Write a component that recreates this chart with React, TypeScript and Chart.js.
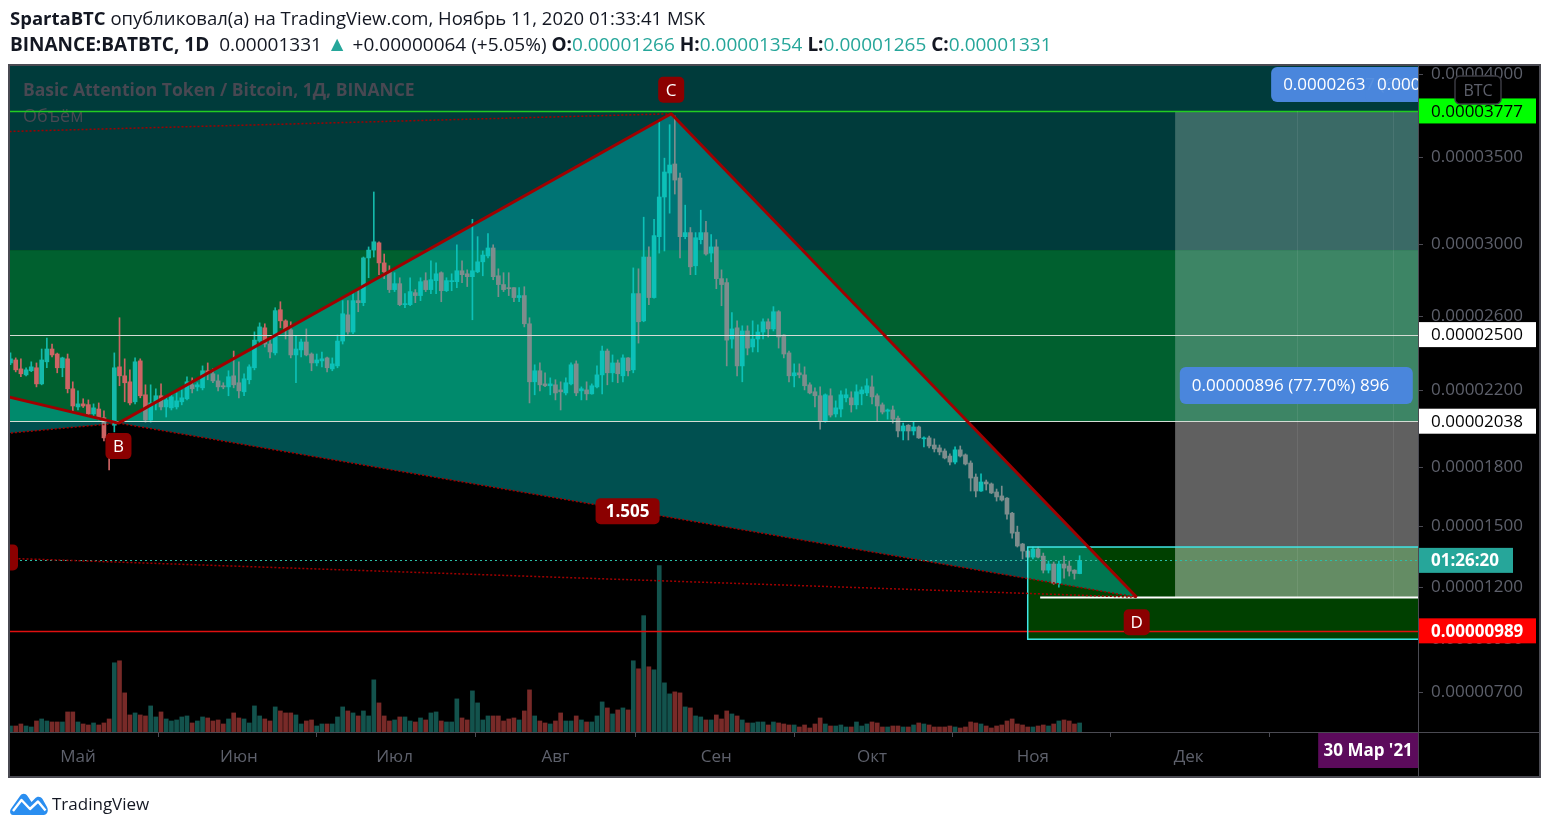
import React, { useEffect, useRef } from 'react';
import { Chart, registerables } from 'chart.js';

Chart.register(...registerables);

// ---------------- data (prices in satoshi, 1e-8 BTC) ----------------
const FIRST_DATE = '2020-04-18';
const REF_DATE = '2020-05-01';
const SAT = 1e-8;

const OPEN = [
  2347,2363,2315,2283,2305,2321,2235,2353,2422,2395,
  2321,2369,2209,2113,2129,2125,2076,2102,2056,1961,
  2017,2326,2278,2246,2140,2358,2177,2044,2134,2172,
  2113,2108,2113,2140,2156,2230,2219,2214,2305,2289,
  2251,2225,2219,2278,2241,2193,2257,2321,2465,2537,
  2449,2401,2636,2575,2526,2390,2417,2460,2395,2347,
  2358,2374,2315,2331,2465,2608,2514,2686,2675,2924,
  2968,3009,2896,2846,2747,2780,2664,2664,2730,2714,
  2797,2747,2797,2841,2741,2791,2791,2852,2835,2819,
  2846,2902,2935,2980,2824,2775,2758,2758,2703,2714,
  2559,2246,2305,2235,2225,2230,2203,2187,2235,2342,
  2198,2203,2182,2219,2283,2411,2294,2347,2278,2374,
  2310,2725,2575,2929,2703,3044,3271,3410,3463,3381,
  3044,3067,2880,3027,3067,2951,2986,2808,2786,2476,
  2537,2331,2520,2433,2476,2514,2570,2531,2625,2498,
  2401,2278,2294,2283,2230,2193,2172,2038,2172,2076,
  2102,2161,2161,2124,2182,2187,2219,2172,2124,2090,
  2097,2054,1987,2017,1987,2008,1946,1951,1914,1899,
  1883,1857,1826,1889,1863,1821,1749,1678,1724,1714,
  1673,1653,1642,1566,1471,1412,1377,1347,1387,1352,
  1283,1313,1219,1313,1303,1283,1266,
];
const HIGH = [
  2401,2374,2369,2321,2353,2347,2422,2481,2449,2400,
  2378,2395,2246,2198,2156,2150,2129,2134,2092,1975,
  2401,2592,2369,2310,2374,2369,2230,2230,2209,2235,
  2166,2182,2187,2203,2273,2267,2241,2331,2347,2315,
  2283,2241,2305,2411,2353,2289,2337,2515,2564,2559,
  2476,2647,2680,2581,2570,2492,2476,2531,2401,2395,
  2406,2379,2374,2498,2686,2686,2725,2741,2929,2986,
  3300,3015,2946,2880,2841,2813,2725,2813,2747,2813,
  2841,2907,2896,2846,2813,2835,2998,2907,2857,3143,
  3044,2963,3062,2998,2863,2841,2841,2758,2758,2763,
  2592,2337,2347,2294,2267,2257,2246,2267,2347,2358,
  2219,2246,2235,2331,2438,2422,2390,2363,2390,2376,
  2868,2863,3155,2986,3143,3723,3497,3695,3747,3410,
  3224,3096,3067,3195,3131,3056,3027,2857,2808,2620,
  2575,2548,2548,2575,2553,2586,2586,2653,2631,2500,
  2411,2342,2342,2326,2241,2214,2219,2182,2209,2145,
  2198,2209,2193,2230,2219,2262,2278,2182,2134,2102,
  2118,2065,2028,2020,2033,2013,1956,1961,1946,1914,
  1894,1868,1904,1909,1868,1832,1765,1765,1734,1719,
  1688,1703,1645,1570,1501,1415,1382,1397,1397,1367,
  1328,1323,1328,1352,1328,1285,1354,
];
const LOW = [
  2337,2299,2273,2278,2300,2219,2230,2321,2379,2294,
  2273,2187,2092,2097,2110,2070,2060,2044,1935,1785,
  1982,2225,2140,2124,2129,2161,2033,2033,2097,2097,
  2060,2097,2102,2124,2150,2187,2198,2203,2257,2241,
  2198,2209,2172,2214,2161,2172,2235,2310,2449,2433,
  2374,2390,2537,2476,2374,2241,2379,2385,2305,2331,
  2326,2299,2305,2321,2449,2503,2505,2625,2658,2813,
  2929,2830,2808,2731,2736,2658,2647,2658,2675,2686,
  2736,2725,2725,2680,2736,2741,2758,2786,2764,2581,
  2841,2824,2924,2802,2708,2736,2714,2680,2680,2542,
  2134,2177,2198,2220,2177,2150,2097,2177,2230,2172,
  2150,2150,2180,2214,2182,2230,2246,2241,2246,2278,
  2294,2454,2570,2664,2700,2951,2963,3178,3288,2924,
  3032,2830,2830,3003,2940,2902,2752,2658,2331,2427,
  2278,2246,2390,2406,2406,2476,2487,2520,2427,2374,
  2246,2219,2267,2203,2182,2113,1997,2033,2060,2060,
  2060,2140,2086,2102,2124,2172,2129,2038,2076,2049,
  2028,1956,1940,1940,1966,1948,1904,1899,1878,1863,
  1842,1811,1816,1852,1811,1678,1648,1676,1683,1665,
  1627,1627,1536,1441,1397,1338,1343,1338,1343,1269,
  1269,1214,1200,1244,1254,1239,1265,
];
const CLOSE = [
  2369,2310,2289,2310,2326,2235,2363,2422,2390,2321,
  2374,2209,2118,2129,2118,2076,2108,2054,1951,1935,
  2321,2278,2241,2134,2353,2172,2044,2134,2172,2113,
  2150,2166,2145,2161,2246,2209,2230,2305,2294,2251,
  2219,2219,2273,2230,2198,2262,2326,2470,2542,2449,
  2406,2631,2575,2526,2390,2422,2460,2390,2347,2363,
  2369,2321,2342,2465,2614,2514,2686,2675,2924,2968,
  3015,2896,2846,2747,2780,2664,2669,2736,2714,2791,
  2747,2802,2835,2741,2797,2797,2852,2830,2819,2852,
  2902,2940,2980,2819,2775,2747,2752,2703,2714,2559,
  2246,2305,2230,2225,2235,2187,2193,2241,2337,2187,
  2209,2182,2225,2283,2411,2294,2347,2289,2374,2305,
  2725,2570,2929,2703,3050,3271,3416,3457,3369,3044,
  3067,2874,3038,3067,2946,2986,2808,2775,2470,2531,
  2331,2520,2427,2476,2514,2570,2531,2625,2487,2395,
  2278,2294,2283,2225,2187,2172,2038,2177,2070,2108,
  2177,2177,2124,2193,2203,2225,2166,2118,2086,2097,
  2049,1987,2013,1987,2008,1951,1951,1909,1894,1878,
  1847,1826,1889,1857,1816,1744,1678,1724,1714,1668,
  1648,1632,1561,1466,1402,1377,1347,1387,1347,1283,
  1313,1219,1313,1293,1278,1267,1331,
];
const VOLUME = [
  6,6,8,6,5,11,13,11,10,10,
  10,20,20,10,8,7,9,7,9,13,
  69,71,39,17,19,17,16,26,15,20,
  13,11,12,15,16,9,11,15,14,11,
  12,8,13,19,14,13,9,26,16,13,
  11,25,21,19,19,17,8,11,12,6,
  8,8,8,15,25,21,19,16,21,16,
  52,29,16,11,12,15,15,11,10,14,
  12,19,20,11,10,10,33,14,12,41,
  29,12,16,16,16,11,13,14,12,21,
  42,16,11,9,8,11,19,11,11,16,
  12,10,10,16,30,24,18,22,24,22,
  71,63,116,65,62,166,49,38,40,39,
  25,24,16,15,12,12,17,13,21,18,
  16,12,9,9,10,10,7,10,9,8,
  7,7,5,7,4,8,14,8,6,6,
  7,5,5,10,6,8,10,9,5,5,
  6,6,5,5,7,9,8,7,5,5,
  5,6,5,4,5,10,9,8,6,4,
  6,7,11,13,8,7,5,5,6,7,
  6,8,11,12,11,8,9,
];

const PRICE_TICKS = [4000, 3500, 3000, 2600, 2200, 1800, 1500, 1200, 950, 700];
const MONTH_LABELS = ['Май', 'Июн', 'Июл', 'Авг', 'Сен', 'Окт', 'Ноя', 'Дек', '2021'];
const MONTH_DATES = ['2020-05-01', '2020-06-01', '2020-07-01', '2020-08-01', '2020-09-01', '2020-10-01', '2020-11-01', '2020-12-01', '2021-01-01'];

// harmonic pattern X A B C D (days from 1 May 2020, price in satoshi)
const PATTERN_NAMES = ['X', 'A', 'B', 'C', 'D'];
const PATTERN_DAYS = [-204.8, -205.8, 7.8, 114.3, 204.0];
const PATTERN_PRICES = [1511, 3497, 2028, 3760, 1151];
const PATTERN_RATIO = '1.505';

// horizontal levels
const LEVEL_GREEN = 3777;
const LEVEL_WHITE = [2500, 2038];
const LEVEL_RED = 989;
const TARGET_D = 1151;
const COUNTDOWN = '01:26:20';

// shaded zones: day range, price range
const ZONE_FROM = [-999, -999, 211.4, 211.4, 183.0, 211.4, 211.4];
const ZONE_TO = [999, 999, 999, 999, 999, 999, 999];
const ZONE_LOW = [2968, 2038, 2968, 2038, 949, 1151, 1151];
const ZONE_HIGH = [9000, 2968, 3777, 2968, 1397, 2038, 1397];
const ZONE_COLORS = ['#003b3b', '#00602f', '#3a6a66', '#3d8565', '#004000', '#606060', '#648c64'];

// view window
const VIEW_DAY_MIN = -13.1;
const VIEW_DAY_MAX = 258.2;
const VIEW_PRICE_MIN = 516;
const VIEW_PRICE_MAX = 4049;
const SCALE_SHIFT = 10000;

// ---------------- helpers ----------------
const DAY_MS = 86400000;
const dayNum = (s: string) => Math.round((Date.parse(s) - Date.parse(REF_DATE)) / DAY_MS);
const FIRST_DAY = dayNum(FIRST_DATE);
const tf = (p: number) => Math.log(p + SCALE_SHIFT);
const fmt = (p: number) => (p * SAT).toFixed(8);
const FONT = '"Open Sans", "Noto Sans", sans-serif';

const UP = 'rgb(20,185,170)';
const DOWN = 'rgb(205,100,100)';
const VOL_UP = 'rgba(38,166,154,0.5)';
const VOL_DOWN = 'rgba(239,83,80,0.5)';

const tvPlugin: any = {
  id: 'tvOverlay',
  beforeDraw(chart: any) {
    const { ctx, chartArea: a, scales } = chart;
    const xs = scales.x, ys = scales.y;
    const px = (d: number) => xs.getPixelForValue(d);
    const py = (p: number) => ys.getPixelForValue(tf(p));
    ctx.save();
    ctx.fillStyle = '#4a4a52';
    ctx.fillRect(a.left - 2, a.top - 2, ys.right - a.left + 4, xs.bottom - a.top + 4);
    ctx.fillStyle = '#000';
    ctx.fillRect(a.left, a.top, ys.right - a.left, xs.bottom - a.top);
    ctx.beginPath();
    ctx.rect(a.left, a.top, a.right - a.left, a.bottom - a.top);
    ctx.clip();
    for (let i = 0; i < ZONE_COLORS.length; i++) {
      const x0 = Math.max(px(ZONE_FROM[i]), a.left - 5);
      const x1 = Math.min(px(ZONE_TO[i]), a.right + 5);
      const y0 = Math.max(py(ZONE_HIGH[i]), a.top - 5);
      const y1 = py(ZONE_LOW[i]);
      ctx.fillStyle = ZONE_COLORS[i];
      ctx.fillRect(x0, y0, x1 - x0, y1 - y0);
    }
    ctx.fillStyle = '#484852';
    ctx.textBaseline = 'middle';
    ctx.textAlign = 'left';
    ctx.font = 'bold 17.5px ' + FONT;
    ctx.fillText('Basic Attention Token / Bitcoin, 1Д, BINANCE', a.left + 13, a.top + 25);
    ctx.font = '18px ' + FONT;
    ctx.fillText('Объём', a.left + 13, a.top + 51);
    ctx.restore();
  },
  afterDatasetsDraw(chart: any) {
    const { ctx, chartArea: a, scales } = chart;
    const xs = scales.x, ys = scales.y;
    const px = (d: number) => xs.getPixelForValue(d);
    const py = (p: number) => ys.getPixelForValue(tf(p));
    const P = PATTERN_DAYS.map((d, i) => ({ x: px(d), y: py(PATTERN_PRICES[i]) }));
    const [X, A, B, C, D] = P;
    ctx.save();
    ctx.beginPath();
    ctx.rect(a.left, a.top, a.right - a.left, a.bottom - a.top);
    ctx.clip();

    // pattern triangles
    ctx.fillStyle = 'rgba(0,205,205,0.39)';
    const tri = (p: any, q: any, r: any) => {
      ctx.beginPath(); ctx.moveTo(p.x, p.y); ctx.lineTo(q.x, q.y); ctx.lineTo(r.x, r.y); ctx.closePath(); ctx.fill();
    };
    tri(X, A, B);
    tri(B, C, D);

    // horizontal levels
    const hline = (p: number, color: string, w: number, x0 = a.left, dash: number[] = []) => {
      const y = Math.round(py(p)) + 0.5;
      ctx.strokeStyle = color; ctx.lineWidth = w; ctx.setLineDash(dash);
      ctx.beginPath(); ctx.moveTo(x0, y); ctx.lineTo(a.right, y); ctx.stroke();
    };
    hline(LEVEL_GREEN, '#22cc22', 1.5);
    LEVEL_WHITE.forEach(p => hline(p, '#d4dcd4', 1));
    hline(LEVEL_RED, '#e01010', 1.5);
    hline(CLOSE[CLOSE.length - 1], '#2bbfa8', 1, a.left, [2, 3]);
    hline(TARGET_D, '#ffffff', 2, px(185.4));

    // faint guide lines in projection zone
    ctx.setLineDash([]);
    ctx.strokeStyle = 'rgba(255,255,255,0.08)';
    ctx.lineWidth = 1;
    [234.9, 253.3].forEach(d => {
      const x = Math.round(px(d)) + 0.5;
      ctx.beginPath(); ctx.moveTo(x, py(LEVEL_GREEN)); ctx.lineTo(x, py(TARGET_D)); ctx.stroke();
    });

    // cyan target box border
    ctx.strokeStyle = '#3fe6e6';
    ctx.lineWidth = 1.5;
    const bx = px(183.0), by0 = py(1397), by1 = py(949);
    ctx.strokeRect(bx, by0, a.right - bx + 5, by1 - by0);

    // dotted pattern lines
    ctx.strokeStyle = '#a00000';
    ctx.lineWidth = 1.5;
    ctx.setLineDash([2, 2]);
    const seg = (p: any, q: any) => { ctx.beginPath(); ctx.moveTo(p.x, p.y); ctx.lineTo(q.x, q.y); ctx.stroke(); };
    seg(A, C); seg(X, B); seg(B, D); seg(X, D);

    // main pattern legs
    ctx.setLineDash([]);
    ctx.lineWidth = 3;
    ctx.strokeStyle = '#a00000';
    ctx.lineJoin = 'round';
    ctx.beginPath();
    P.forEach((p, i) => (i ? ctx.lineTo(p.x, p.y) : ctx.moveTo(p.x, p.y)));
    ctx.stroke();

    // point labels
    const tag = (cx: number, cy: number, text: string, w: number, bold: boolean) => {
      ctx.fillStyle = '#8b0000';
      ctx.beginPath(); ctx.roundRect(cx - w / 2, cy - 13, w, 26, 5); ctx.fill();
      ctx.fillStyle = '#ffffff';
      ctx.font = (bold ? 'bold ' : '') + '17px ' + FONT;
      ctx.textAlign = 'center'; ctx.textBaseline = 'middle';
      ctx.fillText(text, cx, cy + 1);
    };
    tag(C.x, C.y - 24, PATTERN_NAMES[3], 26, false);
    tag(B.x, B.y + 23, PATTERN_NAMES[2], 26, false);
    tag(D.x, D.y + 25, PATTERN_NAMES[4], 26, false);
    tag((B.x + D.x) / 2, (B.y + D.y) / 2 + 1, PATTERN_RATIO, 64, true);
    const xLeftY = X.y + (D.y - X.y) * ((a.left - X.x) / (D.x - X.x));
    tag(a.left - 6, xLeftY - 1, '', 28, true);

    // measurement labels (blue)
    ctx.textAlign = 'left'; ctx.textBaseline = 'middle';
    ctx.font = '17px ' + FONT;
    const b1 = px(229.9);
    ctx.fillStyle = '#4a86dc';
    ctx.beginPath(); ctx.roundRect(b1, a.top + 1, 190, 35, 6); ctx.fill();
    ctx.fillStyle = '#fff';
    ctx.fillText('0.00002637 (69.83%)', b1 + 12, a.top + 19);
    const b2 = px(248.0);
    ctx.fillStyle = 'rgba(74,134,220,0.93)';
    ctx.beginPath(); ctx.roundRect(b2, a.top + 1, 190, 35, 6); ctx.fill();
    ctx.fillStyle = '#fff';
    ctx.fillText(fmt(LEVEL_GREEN), b2 + 12, a.top + 19);

    const m1 = px(212.3), my = py(2226);
    ctx.fillStyle = '#4a86dc';
    ctx.beginPath(); ctx.roundRect(m1, my - 18.5, 233, 37, 6); ctx.fill();
    ctx.fillStyle = '#fff';
    ctx.fillText('0.00000896 (77.70%) 896', m1 + 12, my + 1);
    ctx.restore();
  },
  afterDraw(chart: any) {
    const { ctx, chartArea: a, scales } = chart;
    const xs = scales.x, ys = scales.y;
    const px = (d: number) => xs.getPixelForValue(d);
    const py = (p: number) => ys.getPixelForValue(tf(p));
    ctx.save();
    // separators
    ctx.strokeStyle = '#4a4a52';
    ctx.lineWidth = 1;
    ctx.beginPath();
    ctx.moveTo(a.left, a.bottom + 0.5); ctx.lineTo(ys.right, a.bottom + 0.5);
    ctx.moveTo(a.right + 0.5, a.top); ctx.lineTo(a.right + 0.5, xs.bottom);
    ctx.stroke();

    const box = (p: number, bg: string, fg: string, text: string, bold: boolean, w: number) => {
      const y = py(p);
      ctx.fillStyle = bg;
      ctx.fillRect(a.right + 1, y - 12.5, w, 25);
      ctx.fillStyle = fg;
      ctx.font = (bold ? 'bold ' : '') + '17px ' + FONT;
      ctx.textAlign = 'left'; ctx.textBaseline = 'middle';
      ctx.fillText(text, a.right + 13, y + 1);
    };
    box(LEVEL_GREEN, '#00ff00', '#000', fmt(LEVEL_GREEN), false, 117);
    LEVEL_WHITE.forEach(p => box(p, '#ffffff', '#000', fmt(p), false, 117));
    box(CLOSE[CLOSE.length - 1], '#26a69a', '#fff', COUNTDOWN, true, 94);
    box(LEVEL_RED, '#ff0000', '#fff', fmt(LEVEL_RED), true, 117);

    // currency badge
    ctx.fillStyle = '#000';
    ctx.strokeStyle = '#3a3a42';
    ctx.lineWidth = 1.5;
    ctx.beginPath(); ctx.roundRect(a.right + 37, a.top + 10, 46, 28, 5); ctx.fill(); ctx.stroke();
    ctx.fillStyle = '#5d606b';
    ctx.font = '16px ' + FONT;
    ctx.textAlign = 'center';
    ctx.fillText('BTC', a.right + 60, a.top + 25);

    // crosshair date label
    const cx = px(248.6);
    ctx.fillStyle = '#5c0b5c';
    ctx.fillRect(cx - 50, a.bottom + 1, 100, 35);
    ctx.fillStyle = '#fff';
    ctx.font = 'bold 17px ' + FONT;
    ctx.textAlign = 'center'; ctx.textBaseline = 'middle';
    ctx.fillText("30 Мар '21", cx, a.bottom + 19);
    ctx.restore();
  },
};

export default function App() {
  const ref = useRef<HTMLCanvasElement>(null);

  useEffect(() => {
    const days = OPEN.map((_, i) => FIRST_DAY + i);
    const up = OPEN.map((o, i) => CLOSE[i] >= o);
    const chart = new Chart(ref.current as HTMLCanvasElement, {
      type: 'bar',
      data: {
        datasets: [
          {
            label: 'Объём',
            data: VOLUME.map((v, i) => ({ x: days[i], y: v })),
            yAxisID: 'yv',
            backgroundColor: up.map(u => (u ? VOL_UP : VOL_DOWN)),
            barThickness: 4,
            grouped: false,
            order: 3,
          } as any,
          {
            label: 'wick',
            data: days.map((d, i) => ({ x: d, y: [tf(LOW[i]), tf(HIGH[i])] })),
            yAxisID: 'y',
            backgroundColor: up.map(u => (u ? UP : DOWN)),
            barThickness: 1,
            grouped: false,
            order: 2,
          } as any,
          {
            label: 'BATBTC',
            data: days.map((d, i) => ({ x: d, y: [tf(OPEN[i]), tf(CLOSE[i])] })),
            yAxisID: 'y',
            backgroundColor: up.map(u => (u ? UP : DOWN)),
            barThickness: 4,
            minBarLength: 1,
            grouped: false,
            order: 1,
          } as any,
        ],
      },
      options: {
        animation: false,
        responsive: false,
        events: [],
        layout: { padding: { left: 10, top: 66, right: 10, bottom: 55 } },
        plugins: { legend: { display: false }, tooltip: { enabled: false } },
        scales: {
          x: {
            type: 'linear',
            min: VIEW_DAY_MIN,
            max: VIEW_DAY_MAX,
            offset: false,
            afterBuildTicks: (s: any) => { s.ticks = MONTH_DATES.map(m => ({ value: dayNum(m) })); },
            afterFit: (s: any) => { s.height = 44; },
            ticks: {
              autoSkip: false,
              maxRotation: 0,
              padding: 10,
              color: '#5d606b',
              font: { family: FONT, size: 17 },
              callback: (_v: any, i: number) => MONTH_LABELS[i],
            },
            grid: { drawOnChartArea: false, drawTicks: true, tickLength: 5, color: '#4a4a52' },
            border: { display: true, color: '#4a4a52' },
          },
          y: {
            type: 'linear',
            position: 'right',
            min: tf(VIEW_PRICE_MIN),
            max: tf(VIEW_PRICE_MAX),
            afterBuildTicks: (s: any) => { s.ticks = PRICE_TICKS.map(p => ({ value: tf(p) })); },
            afterFit: (s: any) => { s.width = 121; },
            ticks: {
              autoSkip: false,
              padding: 8,
              color: '#5d606b',
              font: { family: FONT, size: 17 },
              callback: (_v: any, i: number) => fmt(PRICE_TICKS[i]),
            },
            grid: { drawOnChartArea: false, drawTicks: true, tickLength: 5, color: '#4a4a52' },
            border: { display: true, color: '#4a4a52' },
          },
          yv: {
            type: 'linear',
            display: false,
            min: 0,
            max: Math.max(...VOLUME) * 4,
          },
        },
      } as any,
      plugins: [tvPlugin],
    });
    return () => chart.destroy();
  }, []);

  const n = CLOSE.length;
  const chg = CLOSE[n - 1] - CLOSE[n - 2];
  const pct = ((chg / CLOSE[n - 2]) * 100).toFixed(2);
  const teal = { color: '#26a69a' };
  const line: any = {
    position: 'absolute', left: 10, whiteSpace: 'nowrap', font: '18.5px ' + FONT,
    color: '#131722', lineHeight: '24px',
  };

  return (
    <div style={{ position: 'absolute', left: 0, top: 0, width: 1549, height: 831, background: '#fff', overflow: 'hidden' }}>
      <canvas ref={ref} width={1549} height={831} style={{ position: 'absolute', left: 0, top: 0, width: 1549, height: 831 }} />
      <div style={{ ...line, top: 6 }}>
        <b>SpartaBTC</b> опубликовал(а) на TradingView.com, Ноябрь 11, 2020 01:33:41 MSK
      </div>
      <div style={{ ...line, top: 31, fontSize: 19 }}>
        <b>BINANCE:BATBTC, 1D</b>&nbsp; {fmt(CLOSE[n - 1])} <span style={{ ...teal, fontSize: 21 }}>▲</span> +{fmt(chg)} (+{pct}%){' '}
        <b>O:</b><span style={teal}>{fmt(OPEN[n - 1])}</span>{' '}
        <b>H:</b><span style={teal}>{fmt(HIGH[n - 1])}</span>{' '}
        <b>L:</b><span style={teal}>{fmt(LOW[n - 1])}</span>{' '}
        <b>C:</b><span style={teal}>{fmt(CLOSE[n - 1])}</span>
      </div>
      <div style={{ position: 'absolute', left: 10, top: 791, display: 'flex', alignItems: 'center' }}>
        <svg width="38" height="25" viewBox="0 0 38 25">
          <path d="M3 24 C0 24 -1 20 1.5 17 L10 5 C12 2 15.5 2 17.5 5 L21.5 11 L25 7.5 C27 5 30.5 5 32.5 8 L37 16 C39 20 37 24 34 24 Z" fill="#2a8ef0" />
          <polyline points="3,20 11.5,9 20,18 28,10.5 35.5,19.5" stroke="#ffffff" strokeWidth="2.4" fill="none" strokeLinejoin="round" />
        </svg>
        <span style={{ marginLeft: 4, font: '17px ' + FONT, color: '#131722' }}>TradingView</span>
      </div>
    </div>
  );
}
